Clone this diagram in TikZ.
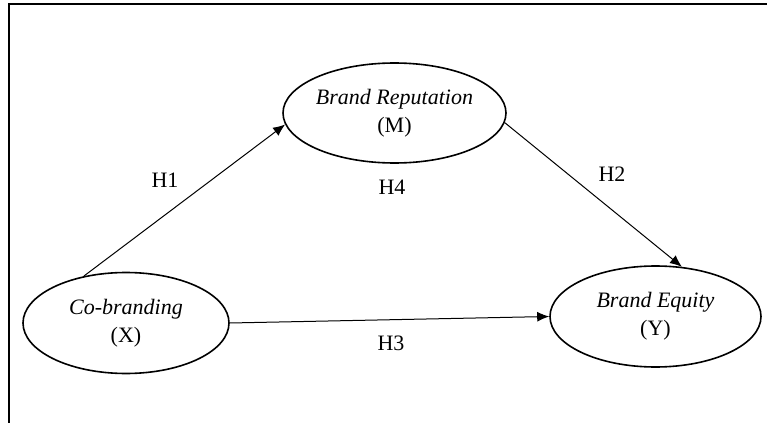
\documentclass[tikz,border=0pt]{standalone}
\usepackage{fontspec}
\setmainfont{Liberation Serif}
\usepackage{tikz}
\usetikzlibrary{shapes.geometric, arrows.meta, positioning}

\tikzset{
    bien/.style={ellipse, draw, line width=0.8pt, inner xsep=-4pt, inner ysep=0pt, align=center, font=\fontsize{11}{14}\selectfont},
    nhan/.style={font=\fontsize{11}{14}\selectfont},
    duong/.style={->, line width=0.5pt}
}

\begin{document}
\begin{tikzpicture}[>={Latex[length=6pt, width=5pt]}, x=0.5pt, y=-0.5pt]
    \useasboundingbox (0,0) rectangle (767,423);
    % 1. Khung
    \draw[line width=1pt] (9,423) -- (9,4) -- (767,4);

    % 2. Các biến
    \node[bien, minimum width=103pt, minimum height=50.5pt] (cob) at (126,323) {\textit{Co-branding}\\(X)};
    \node[bien, minimum width=111.5pt, minimum height=50pt] (rep) at (394.5,113) {\textit{Brand Reputation}\\(M)};
    \node[bien, minimum width=105.5pt, minimum height=50.5pt] (equ) at (655.5,316.5) {\textit{Brand Equity}\\(Y)};

    % 3. Các mũi tên
    \draw[duong] (cob.132) -- (rep.186);
    \draw[duong] (rep.-5) -- (equ.62);
    \draw[duong] (cob.east) -- (equ.west);

    % 4. Giả thuyết
    \node[nhan] (h1) at (165,180) {H1};
    \node[nhan] (h2) at (612,174) {H2};
    \node[nhan] (h4) at (392,187) {H4};
    \node[nhan] (h3) at (391,343) {H3};
\end{tikzpicture}
\end{document}
